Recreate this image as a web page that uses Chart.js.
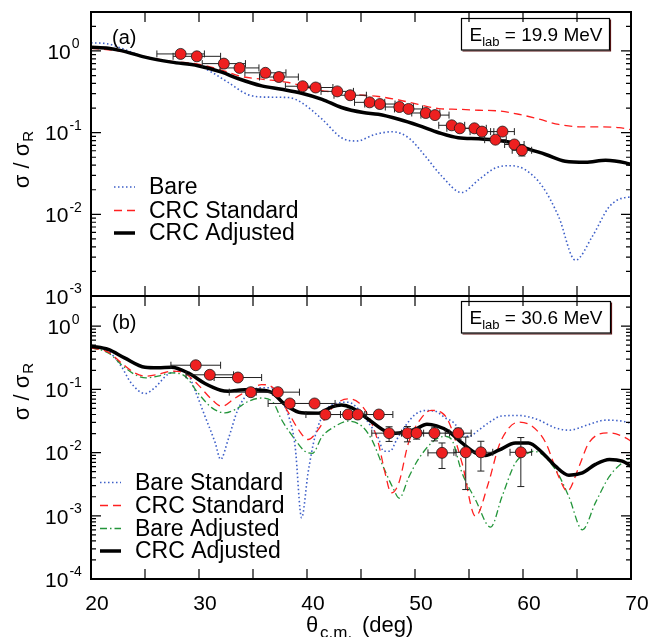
<!DOCTYPE html>
<html>
<head>
<meta charset="utf-8">
<script src="https://cdn.jsdelivr.net/npm/chart.js@4.4.1/dist/chart.umd.min.js"></script>
<style>
  body { margin: 0; background: #fff; }
  #wrap { position: relative; width: 651px; height: 637px; }
  canvas { position: absolute; left: 0; top: 0; }
</style>
</head>
<body>
<div id="wrap">
  <canvas id="topPanel" width="651" height="637"></canvas>
  <canvas id="bottomPanel" width="651" height="637"></canvas>
</div>
<script>
// ---- panel (a): E_lab = 19.9 MeV ----
const topBareX = [20, 21.6, 22.8, 25, 27.45, 29.9, 31.2, 32.7, 34.6, 36.4, 38.3, 39.5, 41.4, 43.2, 44.6, 46.3, 47.9, 49.4, 50.96, 52.5, 54.3, 55.9, 57.45, 58.84, 60.2, 61.8, 63.3, 64.85, 66.4, 68.0, 69.5, 70];
const topBareY = [1.26, 1.22, 1.08, 0.84, 0.74, 0.66, 0.547, 0.412, 0.29, 0.272, 0.269, 0.233, 0.146, 0.0865, 0.079, 0.095, 0.1025, 0.0865, 0.0514, 0.0291, 0.0185, 0.0265, 0.037, 0.0394, 0.0352, 0.0219, 0.00937, 0.00274, 0.0053, 0.01245, 0.0161, 0.01625];

const topCrcStdX = [20, 22.8, 25, 27.45, 29.9, 32.1, 33.9, 35.8, 38.3, 40.75, 43.2, 45.2, 46.6, 48.5, 50.3, 52.2, 54.0, 55.9, 57.8, 59.6, 61.5, 63.3, 65.2, 67.0, 68.9, 70];
const topCrcStdY = [1.08, 0.99, 0.85, 0.746, 0.69, 0.583, 0.488, 0.452, 0.411, 0.340, 0.304, 0.287, 0.277, 0.251, 0.222, 0.197, 0.193, 0.188, 0.184, 0.168, 0.146, 0.126, 0.118, 0.118, 0.115, 0.109];

const topCrcAdjX = [20, 21.6, 22.8, 25, 27.45, 29.9, 32.1, 33.6, 35.8, 37.65, 39.5, 41.4, 43.2, 45.2, 46.6, 48.5, 50.3, 52.2, 54.0, 55.9, 57.8, 59.0, 60.2, 62.1, 63.9, 65.8, 67.65, 69.5, 70];
const topCrcAdjY = [1.11, 1.08, 1.01, 0.84, 0.73, 0.66, 0.55, 0.46, 0.374, 0.34, 0.304, 0.256, 0.203, 0.176, 0.168, 0.146, 0.123, 0.0998, 0.0865, 0.0841, 0.080, 0.0751, 0.0652, 0.054, 0.0446, 0.0434, 0.0458, 0.0426, 0.0406];

const topPtX = [28.3, 29.8, 32.3, 33.75, 36.15, 37.4, 39.6, 40.8, 42.8, 44.0, 45.8, 46.75, 48.55, 49.4, 51.0, 51.85, 53.4, 54.15, 55.5, 56.2, 57.45, 58.1, 59.2, 59.9];
const topPtY = [0.92, 0.86, 0.70, 0.62, 0.54, 0.48, 0.37, 0.357, 0.32, 0.287, 0.235, 0.224, 0.206, 0.195, 0.174, 0.164, 0.123, 0.113, 0.113, 0.103, 0.082, 0.103, 0.0716, 0.0608];
const topPtXErr = [2.2, 2.2, 2.0, 1.8, 1.9, 1.8, 1.6, 1.6, 1.5, 1.5, 1.4, 1.4, 1.3, 1.3, 1.3, 1.3, 1.2, 1.2, 1.1, 1.1, 1.0, 1.1, 0.9, 0.9];
const topPtYErr = [0.03, 0.03, 0.025, 0.02, 0.02, 0.02, 0.015, 0.015, 0.012, 0.011, 0.009, 0.009, 0.008, 0.008, 0.007, 0.007, 0.005, 0.005, 0.005, 0.005, 0.004, 0.005, 0.008, 0.009];

// ---- panel (b): E_lab = 30.6 MeV ----
const botBareStdX = [20, 21.6, 22.8, 23.7, 25.0, 25.9, 27.1, 28.4, 29.0, 29.6, 30.55, 31.5, 32.0, 32.7, 33.6, 34.6, 35.8, 36.9, 37.35, 38.3, 38.9, 39.5, 40.1, 40.75, 41.7, 42.9, 43.8, 44.8, 45.7, 46.6, 47.1, 47.7, 48.3, 49.1, 50.0, 50.96, 51.85, 52.8, 53.6, 54.3, 55.0, 55.8, 56.8, 58.05, 59.6, 61.2, 63.0, 64.25, 66.1, 67.65, 69.2, 70];
const botBareStdY = [0.483, 0.402, 0.233, 0.127, 0.086, 0.106, 0.172, 0.194, 0.172, 0.0995, 0.0377, 0.0143, 0.0078, 0.0161, 0.048, 0.088, 0.106, 0.106, 0.078, 0.0377, 0.0126, 0.00093, 0.0048, 0.0182, 0.0452, 0.061, 0.0627, 0.048, 0.0295, 0.0171, 0.0105, 0.0105, 0.016, 0.0262, 0.040, 0.0463, 0.0452, 0.0354, 0.0295, 0.021, 0.018, 0.022, 0.0295, 0.038, 0.0386, 0.0341, 0.0246, 0.0226, 0.0278, 0.0326, 0.0314, 0.029];

const botCrcStdX = [20, 21.6, 22.8, 24.05, 25.1, 26.2, 27.45, 28.7, 29.9, 31.2, 32.1, 33.35, 34.6, 35.8, 36.9, 37.35, 38.3, 39.2, 40.1, 41.06, 41.98, 42.9, 43.8, 44.8, 45.7, 46.6, 47.2, 47.8, 48.5, 49.4, 50.6, 51.5, 52.5, 53.1, 54.35, 55.6, 56.8, 57.76, 58.7, 59.6, 60.85, 62.1, 63.3, 64.1, 65.2, 66.1, 68.0, 69.5, 70];
const botCrcStdY = [0.454, 0.388, 0.263, 0.182, 0.162, 0.172, 0.194, 0.179, 0.119, 0.069, 0.054, 0.073, 0.097, 0.119, 0.105, 0.078, 0.0425, 0.0232, 0.0161, 0.0232, 0.0425, 0.0627, 0.0708, 0.0612, 0.0377, 0.0143, 0.005, 0.0023, 0.0033, 0.0143, 0.0354, 0.0465, 0.0425, 0.0314, 0.0069, 0.00098, 0.0033, 0.0126, 0.0246, 0.0303, 0.026, 0.0143, 0.0042, 0.00245, 0.0061, 0.0143, 0.0205, 0.0171, 0.0151];

const botBareAdjX = [20, 21.6, 22.8, 24.05, 25.1, 26.2, 27.45, 28.7, 29.9, 31.2, 32.4, 33.35, 34.6, 35.8, 36.9, 37.65, 38.9, 39.8, 40.5, 41.4, 42.6, 43.8, 45.1, 46.0, 46.9, 47.9, 48.55, 49.4, 50.3, 51.9, 52.8, 53.4, 54.35, 55.6, 57.0, 58.05, 59.3, 60.5, 61.0, 63.0, 64.25, 65.5, 66.7, 68.0, 69.2, 70];
const botBareAdjY = [0.454, 0.378, 0.248, 0.172, 0.152, 0.162, 0.182, 0.162, 0.088, 0.051, 0.0425, 0.048, 0.065, 0.073, 0.061, 0.033, 0.016, 0.0105, 0.0097, 0.018, 0.026, 0.0314, 0.026, 0.016, 0.0069, 0.0029, 0.0019, 0.004, 0.0078, 0.0161, 0.018, 0.016, 0.0048, 0.0018, 0.00066, 0.002, 0.0069, 0.0099, 0.0105, 0.0054, 0.002, 0.0006, 0.0016, 0.0042, 0.0069, 0.0083];

const botCrcAdjX = [20, 21.6, 23.1, 25.0, 26.2, 27.45, 29.0, 30.55, 32.0, 32.7, 33.6, 34.6, 35.5, 36.7, 37.97, 39.5, 41.06, 42.3, 43.2, 44.16, 45.7, 47.25, 48.2, 49.2, 50.0, 51.1, 52.0, 53.1, 54.35, 55.6, 56.5, 57.76, 59.3, 60.5, 61.8, 63.0, 64.25, 65.5, 66.7, 68.0, 69.2, 70];
const botCrcAdjY = [0.483, 0.428, 0.315, 0.224, 0.22, 0.224, 0.182, 0.124, 0.097, 0.0937, 0.097, 0.0995, 0.098, 0.09, 0.0577, 0.0425, 0.042, 0.053, 0.0565, 0.0509, 0.0334, 0.0218, 0.0203, 0.0215, 0.0232, 0.028, 0.0265, 0.0218, 0.0142, 0.0099, 0.0090, 0.0109, 0.0142, 0.0142, 0.0099, 0.0061, 0.00439, 0.00477, 0.0065, 0.0078, 0.0073, 0.0061];

const botPtX = [29.7, 31.0, 33.6, 34.8, 37.3, 38.4, 40.7, 41.7, 43.8, 44.7, 46.65, 47.6, 49.3, 50.15, 51.8, 52.5, 54.0, 54.7, 56.1, 59.8];
const botPtY = [0.241, 0.170, 0.154, 0.0903, 0.0903, 0.0598, 0.0598, 0.040, 0.040, 0.040, 0.040, 0.0203, 0.0203, 0.0203, 0.0203, 0.0099, 0.0203, 0.0101, 0.0101, 0.0101];
const botPtXErr = [2.3, 2.2, 2.2, 2.0, 2.0, 2.0, 1.9, 1.8, 1.7, 1.6, 1.3, 1.6, 1.5, 1.4, 1.4, 1.3, 1.2, 1.1, 1.1, 1.0];
const botPtYErr = [0.01, 0.008, 0.008, 0.005, 0.005, 0.004, 0.004, 0.003, 0.003, 0.003, 0.004, 0.0053, 0.0055, 0.004, 0.005, 0.0043, 0.004, 0.0075, 0.005, 0.0072];

// axes
const xTicks = [20, 25, 30, 35, 40, 45, 50, 55, 60, 65, 70];
const xTickLabels = [20, 30, 40, 50, 60, 70];
const topYTicks = [1, 0.1, 0.01, 0.001];
const botYTicks = [1, 0.1, 0.01, 0.001, 0.0001];

const FONT = '"Liberation Sans", Arial, sans-serif';
const BLUE = '#3d5fc8', RED = '#ff2020', GREEN = '#23953a';

function pts(xs, ys) {
    return xs.map(function (x, i) { return { x: x, y: ys[i] }; });
}

function curve(label, xs, ys, color, width, dash) {
    return {
        label: label, data: pts(xs, ys), showLine: true, borderColor: color,
        borderWidth: width, borderDash: dash, pointRadius: 0, fill: false,
        cubicInterpolationMode: 'monotone'
    };
}

function points(xs, ys) {
    return {
        label: 'data', data: pts(xs, ys), showLine: false, pointRadius: 5.5,
        pointBackgroundColor: '#ee2020', pointBorderColor: '#1a1a1a', pointBorderWidth: 0.8
    };
}

function drawPow(ctx, v, cx, cy) {
    const e = String(Math.round(Math.log10(v)));
    ctx.font = '21px ' + FONT;
    const w1 = ctx.measureText('10').width;
    ctx.font = '14px ' + FONT;
    const w2 = ctx.measureText(e).width;
    const x0 = cx - (w1 + w2) / 2;
    ctx.textAlign = 'left';
    ctx.textBaseline = 'middle';
    ctx.font = '21px ' + FONT;
    ctx.fillText('10', x0, cy + 2);
    ctx.font = '14px ' + FONT;
    ctx.fillText(e, x0 + w1 + 1, cy - 6.5);
}

function drawYTitle(ctx, cx, cy) {
    ctx.save();
    ctx.translate(cx, cy);
    ctx.rotate(-Math.PI / 2);
    ctx.textBaseline = 'alphabetic';
    ctx.textAlign = 'left';
    ctx.font = '22px ' + FONT;
    const a = 'σ / σ';
    const wa = ctx.measureText(a).width;
    ctx.font = '15px ' + FONT;
    const wb = ctx.measureText('R').width;
    const x0 = -(wa + wb) / 2;
    ctx.font = '22px ' + FONT;
    ctx.fillText(a, x0, 0);
    ctx.font = '15px ' + FONT;
    ctx.fillText('R', x0 + wa + 1, 4);
    ctx.restore();
}

function drawEnergyBox(ctx, x, y, w, h, energy) {
    ctx.save();
    ctx.strokeStyle = '#5a1414';
    ctx.lineWidth = 1.2;
    ctx.beginPath();
    ctx.moveTo(x + 1, y + h + 1); ctx.lineTo(x + w + 1, y + h + 1); ctx.lineTo(x + w + 1, y + 1);
    ctx.stroke();
    ctx.strokeStyle = '#000';
    ctx.strokeRect(x, y, w, h);
    ctx.fillStyle = '#000';
    ctx.textBaseline = 'alphabetic';
    ctx.textAlign = 'left';
    const base = y + h / 2 + 7;
    ctx.font = '19px ' + FONT;
    ctx.fillText('E', x + 8, base);
    const we = ctx.measureText('E').width;
    ctx.font = '13px ' + FONT;
    ctx.fillText('lab', x + 8 + we, base + 5);
    const wl = ctx.measureText('lab').width;
    ctx.font = '19px ' + FONT;
    ctx.fillText(' = ' + energy + ' MeV', x + 8 + we + wl, base);
    ctx.restore();
}

function drawLegend(chart, items, x0, ys) {
    const ctx = chart.ctx;
    items.forEach(function (label, i) {
        const ds = chart.data.datasets.find(function (d) { return d.label === label; });
        ctx.save();
        ctx.strokeStyle = ds.borderColor;
        ctx.lineWidth = ds.borderWidth;
        ctx.setLineDash(ds.borderDash || []);
        ctx.beginPath();
        ctx.moveTo(x0, ys[i]);
        ctx.lineTo(x0 + 21, ys[i]);
        ctx.stroke();
        ctx.restore();
        ctx.fillStyle = '#000';
        ctx.font = '23px ' + FONT;
        ctx.textAlign = 'left';
        ctx.textBaseline = 'middle';
        ctx.fillText(label, x0 + 35, ys[i] + 1);
    });
}

function drawErrors(chart, xs, ys, ex, ey) {
    const ctx = chart.ctx, sx = chart.scales.x, sy = chart.scales.y;
    ctx.save();
    ctx.strokeStyle = '#222';
    ctx.lineWidth = 1;
    for (let i = 0; i < xs.length; i++) {
        const px = sx.getPixelForValue(xs[i]), py = sy.getPixelForValue(ys[i]);
        const xl = sx.getPixelForValue(xs[i] - ex[i]), xr = sx.getPixelForValue(xs[i] + ex[i]);
        const yt = sy.getPixelForValue(ys[i] + ey[i]), yb = sy.getPixelForValue(ys[i] - ey[i]);
        ctx.beginPath();
        ctx.moveTo(xl, py); ctx.lineTo(xr, py);
        ctx.moveTo(xl, py - 3.5); ctx.lineTo(xl, py + 3.5);
        ctx.moveTo(xr, py - 3.5); ctx.lineTo(xr, py + 3.5);
        ctx.moveTo(px, yt); ctx.lineTo(px, yb);
        ctx.moveTo(px - 3.5, yt); ctx.lineTo(px + 3.5, yt);
        ctx.moveTo(px - 3.5, yb); ctx.lineTo(px + 3.5, yb);
        ctx.stroke();
    }
    ctx.restore();
}

function drawFrame(chart, yTicks) {
    const ctx = chart.ctx, a = chart.chartArea, sx = chart.scales.x, sy = chart.scales.y;
    ctx.save();
    ctx.strokeStyle = '#000';
    ctx.lineWidth = 1.2;
    ctx.beginPath();
    xTicks.forEach(function (t) {
        const x = sx.getPixelForValue(t);
        ctx.moveTo(x, a.top); ctx.lineTo(x, a.top + 10);
        ctx.moveTo(x, a.bottom); ctx.lineTo(x, a.bottom - 10);
    });
    const lo = Math.round(Math.log10(sy.min)), hi = Math.ceil(Math.log10(sy.max));
    for (let d = lo; d <= hi; d++) {
        for (let m = 1; m <= 9; m++) {
            const v = m * Math.pow(10, d);
            if (v < sy.min * 0.999 || v > sy.max * 1.001) continue;
            const y = sy.getPixelForValue(v);
            const len = m === 1 ? 10 : 5;
            ctx.moveTo(a.left, y); ctx.lineTo(a.left + len, y);
            ctx.moveTo(a.right, y); ctx.lineTo(a.right - len, y);
        }
    }
    ctx.stroke();
    ctx.lineWidth = 2;
    ctx.strokeRect(a.left, a.top, a.right - a.left, a.bottom - a.top);
    ctx.fillStyle = '#000';
    yTicks.forEach(function (v) { drawPow(ctx, v, 63, sy.getPixelForValue(v)); });
    ctx.restore();
}

const topPlugin = {
    id: 'topPanel',
    beforeDatasetDraw: function (chart, args) {
        if (args.index === 0) drawErrors(chart, topPtX, topPtY, topPtXErr, topPtYErr);
    },
    afterDraw: function (chart) {
        const ctx = chart.ctx;
        drawFrame(chart, topYTicks);
        drawYTitle(ctx, 28.5, 160);
        ctx.fillStyle = '#000';
        ctx.font = '20px ' + FONT;
        ctx.textAlign = 'left';
        ctx.textBaseline = 'middle';
        ctx.fillText('(a)', 112, 38.5);
        drawEnergyBox(ctx, 461.5, 18.5, 148, 31.5, '19.9');
        drawLegend(chart, ['Bare', 'CRC Standard', 'CRC Adjusted'], 114, [187, 210.5, 233]);
    }
};

const botPlugin = {
    id: 'bottomPanel',
    beforeDatasetDraw: function (chart, args) {
        if (args.index === 0) drawErrors(chart, botPtX, botPtY, botPtXErr, botPtYErr);
    },
    afterDraw: function (chart) {
        const ctx = chart.ctx, sx = chart.scales.x;
        drawFrame(chart, botYTicks);
        drawYTitle(ctx, 28.5, 392);
        ctx.fillStyle = '#000';
        ctx.font = '20px ' + FONT;
        ctx.textAlign = 'left';
        ctx.textBaseline = 'middle';
        ctx.fillText('(b)', 112, 323);
        drawEnergyBox(ctx, 461.5, 301.5, 149, 31.5, '30.6');
        drawLegend(chart, ['Bare Standard', 'CRC Standard', 'Bare Adjusted', 'CRC Adjusted'], 100, [482.5, 505.5, 528.5, 551]);
        // x tick labels
        ctx.font = '21px ' + FONT;
        ctx.textAlign = 'center';
        ctx.textBaseline = 'middle';
        xTickLabels.forEach(function (t) {
            ctx.fillText(String(t), sx.getPixelForValue(t) + 6, 604);
        });
        // x title
        ctx.textAlign = 'left';
        ctx.textBaseline = 'alphabetic';
        ctx.font = '22px ' + FONT;
        ctx.fillText('θ', 306, 632);
        ctx.font = '17px ' + FONT;
        ctx.fillText('c.m.', 320, 638);
        ctx.font = '22px ' + FONT;
        ctx.fillText('(deg)', 362, 632);
    }
};

function options(yMin, yMax, padding) {
    return {
        responsive: false,
        animation: false,
        layout: { padding: padding },
        plugins: { legend: { display: false }, tooltip: { enabled: false } },
        scales: {
            x: { type: 'linear', min: 20, max: 70, display: false },
            y: { type: 'logarithmic', min: yMin, max: yMax, display: false }
        }
    };
}

new Chart(document.getElementById('topPanel').getContext('2d'), {
    type: 'scatter',
    data: {
        datasets: [
            points(topPtX, topPtY),
            curve('CRC Adjusted', topCrcAdjX, topCrcAdjY, '#000', 3.5, []),
            curve('CRC Standard', topCrcStdX, topCrcStdY, RED, 1.3, [8, 5]),
            curve('Bare', topBareX, topBareY, BLUE, 1.6, [1.5, 2.5])
        ]
    },
    options: options(0.001, 3, { left: 91, right: 20, top: 12, bottom: 341 }),
    plugins: [topPlugin]
});

new Chart(document.getElementById('bottomPanel').getContext('2d'), {
    type: 'scatter',
    data: {
        datasets: [
            points(botPtX, botPtY),
            curve('CRC Adjusted', botCrcAdjX, botCrcAdjY, '#000', 3.5, []),
            curve('CRC Standard', botCrcStdX, botCrcStdY, RED, 1.3, [8, 5]),
            curve('Bare Adjusted', botBareAdjX, botBareAdjY, GREEN, 1.3, [7, 3, 1.5, 3]),
            curve('Bare Standard', botBareStdX, botBareStdY, BLUE, 1.6, [1.5, 2.5])
        ]
    },
    options: options(0.0001, 3, { left: 91, right: 20, top: 296, bottom: 58 }),
    plugins: [botPlugin]
});
</script>
</body>
</html>
